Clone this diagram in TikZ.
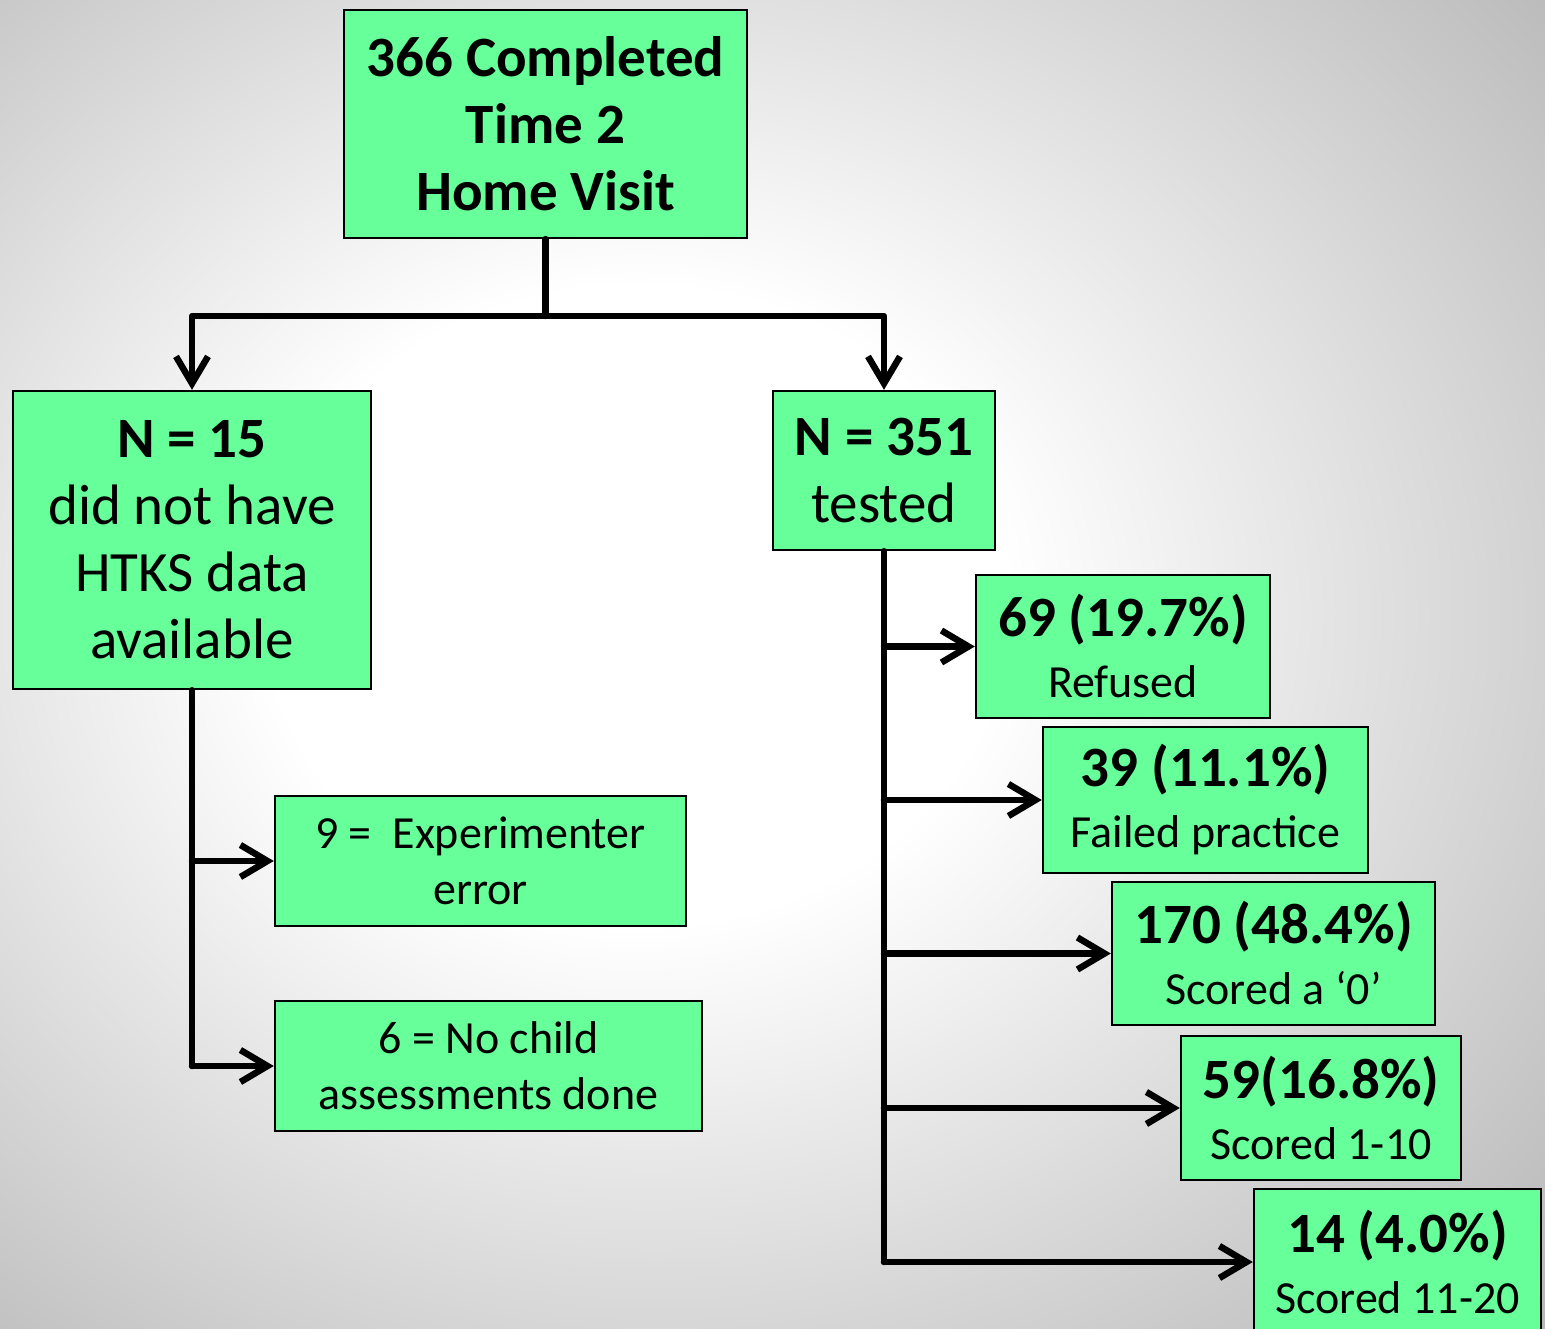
\documentclass[tikz,border=0pt]{standalone}
\usepackage{fontspec}
\setmainfont{Carlito}
\usepackage{tikz}
\usetikzlibrary{arrows.meta,positioning}
\definecolor{mint}{HTML}{66FF99}
\pgfdeclareradialshading{backglow}{\pgfpoint{-5bp}{2.5bp}}{%
  color(0bp)=(white); color(12bp)=(white);
  color(40bp)=(black!30); color(100bp)=(black!30)}
\tikzset{
    box/.style={draw=black, line width=2.4pt, fill=mint, align=center, inner sep=0pt,
                font=\fontsize{57}{67}\selectfont},
    smallbox/.style={box, font=\fontsize{46}{56}\selectfont},
    resultbox/.style={box, font=\fontsize{57}{61}\selectfont},
    trunk/.style={line width=6.5pt, line join=round, line cap=round},
    link/.style={trunk, -{Straight Barb[length=27pt, width=32pt]}}
}
\newcommand{\sublabel}[1]{{\fontsize{46}{61}\selectfont #1}}

\begin{document}
\begin{tikzpicture}[x=1pt, y=-1pt]

  % background
  \shade[shading=backglow] (0,0) rectangle (1545,1329);
  \useasboundingbox (0,0) rectangle (1545,1329);

  % Top: visit count
  \node[box, minimum width=403pt, minimum height=228pt] (visit) at (545.5,124)
    {\textbf{366 Completed}\\ \textbf{Time 2}\\ \textbf{Home Visit}};

  % Row 2: no data / tested
  \node[box, minimum width=358pt, minimum height=298pt] (nodata) at (192,540)
    {\textbf{N = 15}\\ did not have\\ HTKS data\\ available};
  \node[box, minimum width=222pt, minimum height=159pt] (tested) at (884,470.5)
    {\textbf{N = 351}\\ tested};

  % Left branch
  \node[smallbox, minimum width=411pt, minimum height=130pt] (experr) at (480.5,861)
    {9 = \ Experimenter\\ error};
  \node[smallbox, minimum width=427pt, minimum height=130pt] (nochild) at (488.5,1066)
    {6 = No child\\ assessments done};

  % Right branch
  \node[resultbox, minimum width=294pt, minimum height=143pt] (refused) at (1123,646.5)
    {\textbf{69 (19.7\%)}\\ \sublabel{Refused}};
  \node[resultbox, minimum width=325pt, minimum height=146pt] (failed) at (1205.5,800)
    {\textbf{39 (11.1\%)}\\ \sublabel{Failed practice}};
  \node[resultbox, minimum width=323pt, minimum height=143pt] (zero) at (1273.5,953.5)
    {\textbf{170 (48.4\%)}\\ \sublabel{Scored a ‘0’}};
  \node[resultbox, minimum width=280pt, minimum height=144pt] (low) at (1321,1108)
    {\textbf{59(16.8\%)}\\ \sublabel{Scored 1-10}};
  \node[resultbox, minimum width=287pt, minimum height=146pt] (high) at (1397.5,1262)
    {\textbf{14 (4.0\%)}\\ \sublabel{Scored 11-20}};

  % Connectors
  \coordinate (split) at (545.5,316);
  \draw[trunk] (visit.south) -- (split);
  \draw[link] (split) -| (nodata.north);
  \draw[link] (split) -| (tested.north);

  \draw[trunk] (nodata.south) -- (nodata.south |- nochild.west);
  \draw[link] (nodata.south |- experr.west) -- (experr.west);
  \draw[link] (nodata.south |- nochild.west) -- (nochild.west);

  \draw[trunk] (tested.south) -- (tested.south |- high.west);
  \draw[link] (tested.south |- refused.west) -- (refused.west);
  \draw[link] (tested.south |- failed.west) -- (failed.west);
  \draw[link] (tested.south |- zero.west) -- (zero.west);
  \draw[link] (tested.south |- low.west) -- (low.west);
  \draw[link] (tested.south |- high.west) -- (high.west);

\end{tikzpicture}
\end{document}
